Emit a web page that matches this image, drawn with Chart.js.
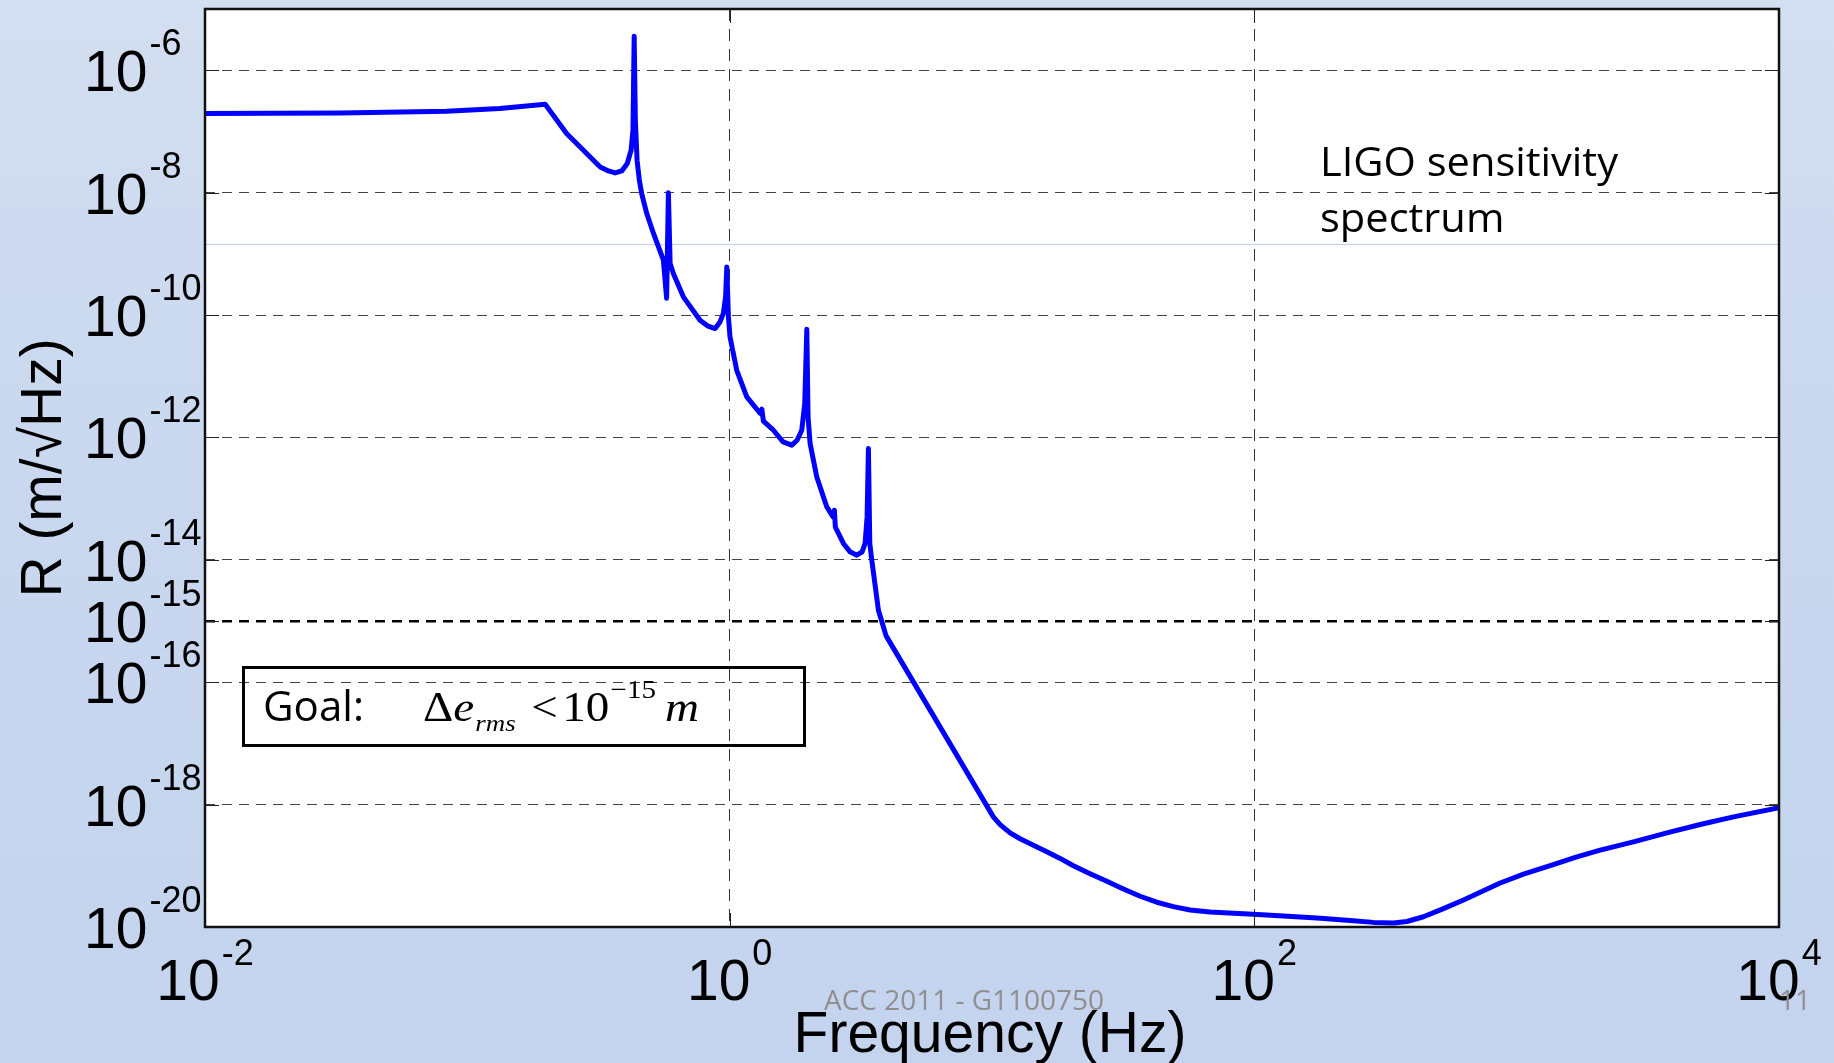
<!DOCTYPE html>
<html><head><meta charset="utf-8">
<script src="https://cdn.jsdelivr.net/npm/chart.js@4.4.0/dist/chart.umd.min.js"></script>
<style>
html,body{margin:0;padding:0;width:1834px;height:1063px;overflow:hidden;
background:linear-gradient(180deg,#d3def0 0%,#c9d8ef 45%,#c4d4ee 100%);}
canvas{display:block;}
</style></head><body>
<canvas id="c" width="1834" height="1063"></canvas>
<script>
// ---- data ----
const frequencyHz = [0.01, 0.0327, 0.0834, 0.133, 0.198, 0.239, 0.277, 0.321, 0.345, 0.366,
  0.388, 0.407, 0.421, 0.428, 0.4325, 0.437, 0.4436, 0.4525, 0.462, 0.483,
  0.512, 0.559, 0.575, 0.584, 0.593, 0.610, 0.666, 0.771, 0.828, 0.880,
  0.919, 0.946, 0.965, 0.975, 0.989, 1.003, 1.064, 1.162, 1.306, 1.326,
  1.345, 1.468, 1.598, 1.725, 1.807, 1.883, 1.933, 1.968, 1.990, 2.026,
  2.148, 2.346, 2.479, 2.507, 2.529, 2.714, 2.877, 3.052, 3.197, 3.283,
  3.341, 3.380, 3.421, 3.482, 3.690, 3.948, 10.12,
  10.74, 11.72, 12.80, 14.38, 16.18, 18.18, 20.43, 23.66, 27.40, 31.70,
  36.69, 42.49, 49.15, 56.92, 67.84, 83.25, 99.2, 129.1, 173.2, 231.9,
  284.6, 339.2, 381.4, 441.3, 526.0, 626.9, 747.1, 865.0, 1062, 1342,
  1696, 2082, 2788, 3738, 5008, 6708, 10000];
const sensitivity = [1.96e-7, 2.0e-7, 2.14e-7, 2.37e-7, 2.78e-7, 9.25e-8, 4.93e-8, 2.63e-8, 2.26e-8, 2.10e-8,
  2.26e-8, 2.99e-8, 4.93e-8, 1.05e-7, 3.6e-6, 1.52e-7, 3.38e-8, 1.60e-8, 9.66e-9, 4.55e-9,
  2.17e-9, 7.85e-10, 1.88e-10, 9.9e-9, 6.95e-10, 4.76e-10, 1.98e-10, 8.22e-11, 6.56e-11, 6.01e-11,
  7.71e-11, 1.06e-10, 1.98e-10, 6.11e-10, 9.31e-11, 4.39e-11, 1.25e-11, 4.59e-12, 2.48e-12, 2.89e-12,
  1.84e-12, 1.31e-12, 8.45e-13, 7.46e-13, 8.99e-13, 1.31e-12, 3.58e-12, 5.86e-11, 2.16e-12, 7.94e-13,
  2.26e-13, 7.31e-14, 5.02e-14, 6.46e-14, 3.41e-14, 1.85e-14, 1.35e-14, 1.19e-14, 1.35e-14, 1.85e-14,
  5.02e-14, 6.59e-13, 1.85e-14, 9.84e-15, 1.50e-15, 5.71e-16, 6.30e-19,
  4.70e-19, 3.45e-19, 2.77e-19, 2.17e-19, 1.70e-19, 1.32e-19, 1.00e-19, 7.43e-20, 5.60e-20, 4.18e-20,
  3.18e-20, 2.54e-20, 2.15e-20, 1.90e-20, 1.76e-20, 1.68e-20, 1.62e-20, 1.51e-20, 1.40e-20, 1.28e-20,
  1.19e-20, 1.16e-20, 1.23e-20, 1.47e-20, 2.00e-20, 2.77e-20, 3.92e-20, 5.24e-20, 7.29e-20, 1.01e-19,
  1.40e-19, 1.80e-19, 2.46e-19, 3.45e-19, 4.73e-19, 6.30e-19, 8.89e-19];
const xTickExponents = [-2, 0, 2, 4];
const yTickExponents = [-20, -18, -16, -15, -14, -12, -10, -8, -6];
const xRange = [1e-2, 1e4];
const yRange = [1e-20, 1e-5];
const goalLevel = 1e-15;
const slideRuleLevel = 1.47e-9;
const yAxisTitle = 'R (m/\u221AHz)';
const xAxisTitle = 'Frequency (Hz)';
const noteLines = ['LIGO sensitivity', 'spectrum'];
const goalLabel = 'Goal:';
const footerText = 'ACC 2011 - G1100750';
const pageNumber = '11';

const SANS = '"Liberation Sans", Arial, sans-serif';
const NOTE = '"Open Sans", "Noto Sans", sans-serif';
const SERIF = '"Liberation Serif", "Times New Roman", serif';

function isExp(v, e){ return Math.abs(Math.log10(v) - e) < 1e-6; }

function drawRuns(ctx, runs, x0, baseline, targetWidth){
  let total = 0;
  runs.forEach(r => { ctx.font = r.font; r.w = ctx.measureText(r.t).width; total += r.w + (r.gap || 0); });
  const sx = targetWidth ? targetWidth / total : 1;
  ctx.save();
  ctx.translate(x0, baseline);
  ctx.scale(sx, 1);
  let x = 0;
  runs.forEach(r => { ctx.font = r.font; ctx.fillText(r.t, x, r.dy || 0); x += r.w + (r.gap || 0); });
  ctx.restore();
  return sx;
}

const deco = {
  id: 'deco',
  beforeDraw(chart){
    const {ctx, chartArea: a} = chart;
    ctx.save();
    ctx.fillStyle = '#ffffff';
    ctx.fillRect(a.left, a.top, a.right - a.left, a.bottom - a.top);
    ctx.restore();
  },
  beforeDatasetsDraw(chart){
    const {ctx, chartArea: a, scales: {y}} = chart;
    const py = Math.round(y.getPixelForValue(slideRuleLevel)) + 0.5;
    ctx.save();
    ctx.strokeStyle = '#c3d1ea';
    ctx.lineWidth = 1;
    ctx.beginPath(); ctx.moveTo(a.left, py); ctx.lineTo(a.right, py); ctx.stroke();
    ctx.restore();
  },
  afterDraw(chart){
    const {ctx, chartArea: a, scales: {x, y}} = chart;
    ctx.save();
    // inward ticks
    ctx.strokeStyle = '#222'; ctx.lineWidth = 1;
    yTickExponents.forEach(e => {
      const py = Math.round(y.getPixelForValue(Math.pow(10, e))) + 0.5;
      ctx.beginPath();
      ctx.moveTo(a.left, py); ctx.lineTo(a.left + 14, py);
      ctx.moveTo(a.right, py); ctx.lineTo(a.right - 14, py);
      ctx.stroke();
    });
    xTickExponents.forEach(e => {
      const px = Math.round(x.getPixelForValue(Math.pow(10, e))) + 0.5;
      ctx.beginPath();
      ctx.moveTo(px, a.bottom); ctx.lineTo(px, a.bottom - 14);
      ctx.moveTo(px, a.top); ctx.lineTo(px, a.top + 14);
      ctx.stroke();
    });
    // frame
    ctx.strokeStyle = '#111'; ctx.lineWidth = 2.5;
    ctx.strokeRect(a.left, a.top, a.right - a.left, a.bottom - a.top);

    ctx.fillStyle = '#000';
    ctx.textAlign = 'left'; ctx.textBaseline = 'alphabetic';
    // y tick labels
    yTickExponents.forEach(e => {
      const py = y.getPixelForValue(Math.pow(10, e));
      ctx.font = '57px ' + SANS;
      ctx.fillText('10', 84, py + 21);
      const w = ctx.measureText('10').width;
      ctx.font = '36px ' + SANS;
      ctx.fillText(String(e), 84 + w + 2, py - 15);
    });
    // x tick labels
    xTickExponents.forEach(e => {
      const px = x.getPixelForValue(Math.pow(10, e));
      ctx.font = '57px ' + SANS;
      const w1 = ctx.measureText('10').width;
      ctx.font = '36px ' + SANS;
      const w2 = ctx.measureText(String(e)).width;
      const left = px - (w1 + 2 + w2) / 2;
      ctx.font = '57px ' + SANS;
      ctx.fillText('10', left, 1000);
      ctx.font = '36px ' + SANS;
      ctx.fillText(String(e), left + w1 + 2, 965);
    });
    // axis titles
    ctx.font = '57px ' + SANS;
    ctx.textAlign = 'center';
    ctx.fillText(xAxisTitle, 990, 1052);
    ctx.save();
    ctx.translate(61, 468);
    ctx.rotate(-Math.PI / 2);
    ctx.fillText(yAxisTitle, 0, 0);
    ctx.restore();
    ctx.textAlign = 'left';

    // LIGO note
    ctx.font = '41px ' + NOTE;
    const sxNote = 298 / ctx.measureText(noteLines[0]).width;
    noteLines.forEach((t, i) => {
      ctx.save();
      ctx.translate(1320, 176 + i * 56);
      ctx.scale(sxNote, 1);
      ctx.fillText(t, 0, 0);
      ctx.restore();
    });

    // goal box
    ctx.strokeStyle = '#000'; ctx.lineWidth = 3;
    ctx.strokeRect(243.5, 667.5, 561, 78);
    ctx.font = '42px ' + NOTE;
    const sxGoal = 101 / ctx.measureText(goalLabel).width;
    ctx.save(); ctx.translate(263, 721); ctx.scale(sxGoal, 1); ctx.fillText(goalLabel, 0, 0); ctx.restore();
    drawRuns(ctx, [
      {t: '\u0394', font: '42px ' + SERIF},
      {t: 'e', font: 'italic 42px ' + SERIF, gap: 1},
      {t: 'rms', font: 'italic 24px ' + SERIF, dy: 10, gap: 14},
      {t: '<', font: '42px ' + SERIF, gap: 4},
      {t: '10', font: '42px ' + SERIF, gap: 1},
      {t: '\u221215', font: '26px ' + SERIF, dy: -23, gap: 8},
      {t: 'm', font: 'italic 42px ' + SERIF}
    ], 423, 721, 276);

    // footer
    ctx.fillStyle = '#8f8f8f';
    ctx.font = '27px ' + NOTE;
    const sxFoot = 280 / ctx.measureText(footerText).width;
    ctx.save(); ctx.translate(824, 1010); ctx.scale(sxFoot, 1); ctx.fillText(footerText, 0, 0); ctx.restore();
    ctx.save(); ctx.translate(1779, 1010); ctx.scale(sxFoot, 1); ctx.fillText(pageNumber, 0, 0); ctx.restore();
    ctx.restore();
  }
};

const points = frequencyHz.map((f, i) => ({x: f, y: sensitivity[i]}));

new Chart(document.getElementById('c'), {
  type: 'line',
  data: { datasets: [{
    data: points,
    borderColor: '#0000ff',
    borderWidth: 5,
    pointRadius: 0,
    fill: false,
    tension: 0,
    borderJoinStyle: 'round',
    borderCapStyle: 'round'
  }]},
  options: {
    responsive: false,
    animation: false,
    devicePixelRatio: 1,
    layout: { padding: { top: 9, right: 55, left: 0, bottom: 0 } },
    plugins: { legend: { display: false }, tooltip: { enabled: false } },
    scales: {
      x: {
        type: 'logarithmic', min: xRange[0], max: xRange[1],
        afterBuildTicks: s => { s.ticks = xTickExponents.map(e => ({value: Math.pow(10, e)})); },
        afterFit: s => { s.height = 136; },
        ticks: { display: false },
        grid: {
          drawTicks: false,
          color: c => (c.tick && (isExp(c.tick.value, -2) || isExp(c.tick.value, 4))) ? 'rgba(0,0,0,0)' : '#333',
          lineWidth: 1
        },
        border: { display: false, dash: [12, 8] }
      },
      y: {
        type: 'logarithmic', min: yRange[0], max: yRange[1],
        afterBuildTicks: s => { s.ticks = yTickExponents.map(e => ({value: Math.pow(10, e)})); },
        afterFit: s => { s.width = 205; },
        ticks: { display: false },
        grid: {
          drawTicks: false,
          color: c => {
            if (!c.tick) return '#444';
            if (isExp(c.tick.value, -20)) return 'rgba(0,0,0,0)';
            if (Math.abs(c.tick.value / goalLevel - 1) < 1e-6) return '#000';
            return '#444';
          },
          lineWidth: c => (c.tick && Math.abs(c.tick.value / goalLevel - 1) < 1e-6) ? 2.5 : 1
        },
        border: { display: false, dash: [10, 7] }
      }
    }
  },
  plugins: [deco]
});
</script>
</body></html>
